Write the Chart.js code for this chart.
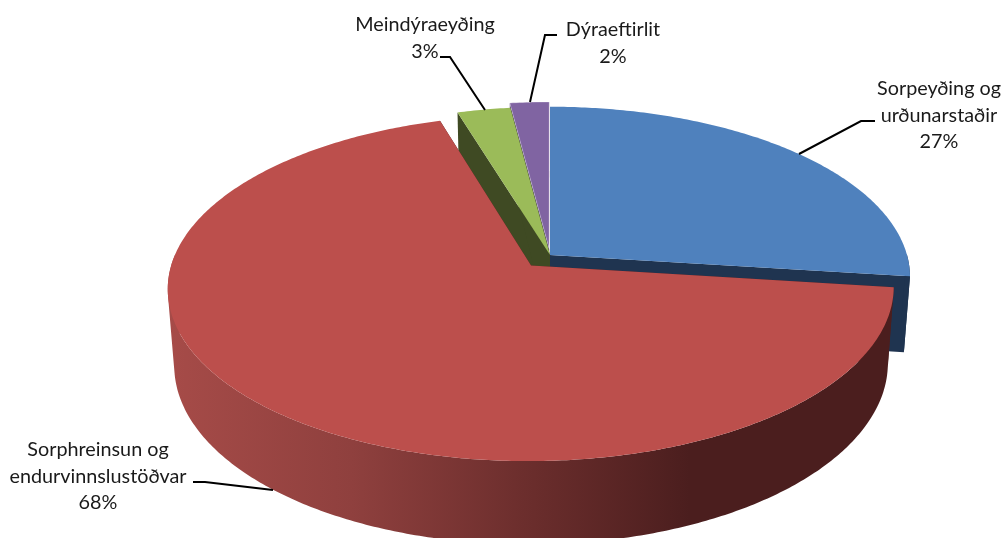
<!DOCTYPE html>
<html>
<head>
<meta charset="utf-8">
<style>
  html, body { margin: 0; padding: 0; background: #fff; }
  canvas { display: block; }
</style>
<script src="https://cdn.jsdelivr.net/npm/chart.js@4"></script>
</head>
<body>
<canvas id="pie-chart" width="1003" height="538"></canvas>
<script>
// data
const categories = ['Sorpeyðing og\nurðunarstaðir', 'Sorphreinsun og\nendurvinnslustöðvar', 'Meindýraeyðing', 'Dýraeftirlit'];
const shares = [27, 68.3, 2.7, 2];
const explode = [0, 20, 0, 9];

// colours
const topColors = ['#4f81bd', '#bc4f4c', '#9bbb59', '#8064a2'];
const wallColors = ['#1f3450', '#4b1e1e', '#3f4a23', '#4c3c61'];
const paintOrder = [0, 3, 2, 1];

// the tilted view
const view = { rx: 357, ry: 167.4, tilt: 0.129, depth: 75, shrink: 0.983 };

// label text centres and leader lines
const labelSpots = [
  { x: 939, y: 89, line: [[875, 121], [861, 121], [799, 154]] },
  { x: 98, y: 450, line: [[193, 482], [205, 482], [273, 490]] },
  { x: 425, y: 25, line: [[440, 57], [450, 57], [485, 110]] },
  { x: 613, y: 30, line: [[557, 35], [545, 35], [530, 102]] }
];
const lineGap = 26.5;

function place(arc, u, v, bottom) {
  const s = 1 / (1 - view.tilt * v);
  const k = bottom ? view.shrink : 1;
  return {
    x: arc.x + view.rx * u * s * k,
    y: arc.y + view.ry * v * s * k + (bottom ? view.depth * s : 0)
  };
}

function arcPoints(arc, shift, bottom) {
  const pts = [];
  const steps = Math.max(2, Math.ceil((arc.endAngle - arc.startAngle) * 90));
  for (let i = 0; i <= steps; i++) {
    const a = arc.startAngle + (arc.endAngle - arc.startAngle) * i / steps;
    pts.push(place(arc, Math.cos(a) + shift.u, Math.sin(a) + shift.v, bottom));
  }
  return pts;
}

function tracePoints(ctx, pts) {
  pts.forEach((p, i) => i ? ctx.lineTo(p.x, p.y) : ctx.moveTo(p.x, p.y));
  ctx.closePath();
}

function fillShape(ctx, pts, fill) {
  ctx.beginPath();
  tracePoints(ctx, pts);
  ctx.fillStyle = fill;
  ctx.fill();
}

// same winding for every strip, so they fill as one shape with no seams
function fillStrips(ctx, top, low, keepBelow, fill) {
  ctx.beginPath();
  for (let n = 0; n < top.length - 1; n++) {
    if (top[n].y < keepBelow && top[n + 1].y < keepBelow) continue;
    const quad = [top[n], top[n + 1], low[n + 1], low[n]];
    let area = 0;
    quad.forEach((p, i) => {
      const q = quad[(i + 1) % 4];
      area += p.x * q.y - q.x * p.y;
    });
    tracePoints(ctx, area < 0 ? quad.reverse() : quad);
  }
  ctx.fillStyle = fill;
  ctx.fill();
}

function redSideGradient(ctx) {
  const g = ctx.createLinearGradient(170, 0, 690, 0);
  g.addColorStop(0, '#a64b48');
  g.addColorStop(0.35, '#8f403e');
  g.addColorStop(0.7, '#6a2d2c');
  g.addColorStop(1, '#4b1e1e');
  return g;
}

const pie3d = {
  id: 'pie3d',
  // the flat arcs are replaced by the tilted ones below
  beforeDatasetDraw() {
    return false;
  },
  afterDatasetsDraw(chart) {
    const ctx = chart.ctx;
    const arcs = chart.getDatasetMeta(0).data;
    ctx.save();
    paintOrder.forEach(i => {
      const arc = arcs[i];
      const mid = (arc.startAngle + arc.endAngle) / 2;
      const shift = {
        u: Math.cos(mid) * arc.options.offset / arc.outerRadius,
        v: Math.sin(mid) * arc.options.offset / arc.outerRadius
      };
      const top = arcPoints(arc, shift, false);
      const low = arcPoints(arc, shift, true);
      const tip = place(arc, shift.u, shift.v, false);
      const tipLow = place(arc, shift.u, shift.v, true);

      // radial walls
      fillShape(ctx, [tip, top[0], low[0], tipLow], wallColors[i]);
      fillShape(ctx, [tip, top[top.length - 1], low[low.length - 1], tipLow], wallColors[i]);

      // curved wall, front part only
      const side = i === 1 ? redSideGradient(ctx) : wallColors[i];
      fillStrips(ctx, top, low, arc.y, side);

      // top face
      fillShape(ctx, [tip].concat(top), topColors[i]);
      if (i === 3) {
        ctx.strokeStyle = 'rgba(255,255,255,0.3)';
        ctx.lineWidth = 1;
        ctx.stroke();
      }
    });
    ctx.restore();
  },
  afterDraw(chart) {
    const ctx = chart.ctx;
    ctx.save();
    ctx.strokeStyle = '#000';
    ctx.lineWidth = 2;
    ctx.fillStyle = '#1a1a1a';
    ctx.font = '19.8px Lato';
    ctx.textAlign = 'center';
    ctx.textBaseline = 'middle';
    categories.forEach((name, i) => {
      const spot = labelSpots[i];
      const lines = name.split('\n').concat(Math.round(shares[i]) + '%');
      lines.forEach((t, n) => ctx.fillText(t, spot.x, spot.y + n * lineGap));
      ctx.beginPath();
      spot.line.forEach((p, n) => n ? ctx.lineTo(p[0], p[1]) : ctx.moveTo(p[0], p[1]));
      ctx.stroke();
    });
    ctx.restore();
  }
};

let pieChart = new Chart(document.getElementById('pie-chart'), {
  type: 'pie',
  data: {
    labels: categories,
    datasets: [{
      data: shares,
      backgroundColor: topColors,
      offset: explode,
      borderWidth: 0
    }]
  },
  options: {
    responsive: false,
    animation: false,
    layout: { padding: { left: 97, bottom: 28 } },
    plugins: {
      legend: { display: false },
      tooltip: { enabled: false }
    }
  },
  plugins: [pie3d]
});
</script>
</body>
</html>
